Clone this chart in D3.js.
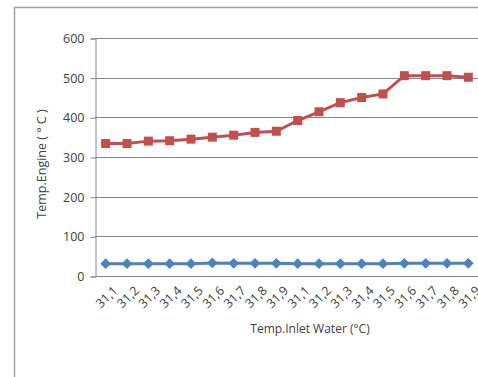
<!DOCTYPE html>
<html>
<head>
<meta charset="utf-8">
<script src="https://cdn.jsdelivr.net/npm/d3@7"></script>
<style>
  html, body { margin: 0; padding: 0; background: #fff; }
  svg { display: block; }
  text { font-family: "Open Sans", sans-serif; fill: #404040; }
</style>
</head>
<body>
<svg id="chart" width="478" height="377"></svg>
<script>
// Inlet water temperature categories (two sweeps of 31,1 … 31,9)
const categories = ["31,1","31,2","31,3","31,4","31,5","31,6","31,7","31,8","31,9",
                    "31,1","31,2","31,3","31,4","31,5","31,6","31,7","31,8","31,9"];
// Engine temperature (red, squares)
const engineTemp = [334, 334, 340, 341, 345, 350, 355, 362, 365,
                    392, 414, 437, 450, 459, 505, 505, 505, 501];
// Inlet water temperature (blue, diamonds)
const waterTemp = [31, 31, 31, 31, 31, 33, 32, 32, 32,
                   31, 31, 31, 31, 31, 32, 32, 32, 32];
const yTicks = [0, 100, 200, 300, 400, 500, 600];

const svg = d3.select("#chart");
const margin = { left: 95, top: 38, right: 479, bottom: 276 };
const FONT = "'Open Sans', sans-serif";

// chart frame (top and left edges)
svg.append("path")
  .attr("d", `M14.5,377 V7.5 H478`)
  .attr("fill", "none").attr("stroke", "#a0a0a0").attr("stroke-width", 1.5);

const x = d3.scaleBand().domain(d3.range(categories.length))
  .range([margin.left, margin.right]);
const y = d3.scaleLinear().domain([0, 600]).range([margin.bottom, margin.top]);

// horizontal gridlines
svg.append("g").selectAll("line").data(yTicks.filter(d => d > 0)).join("line")
  .attr("x1", margin.left).attr("x2", 478)
  .attr("y1", d => Math.round(y(d)) + 0.5).attr("y2", d => Math.round(y(d)) + 0.5)
  .attr("stroke", "#868686").attr("stroke-width", 1);

// y axis
const yAxis = svg.append("g").attr("transform", `translate(${margin.left + 0.5},0.5)`)
  .call(d3.axisLeft(y).tickValues(yTicks).tickSize(5).tickPadding(6));
yAxis.select(".domain").attr("stroke", "#868686");
yAxis.selectAll(".tick line").attr("stroke", "#868686");
yAxis.selectAll(".tick text").attr("font-size", 12.5).style("fill", "#404040")
  .style("font-family", FONT);

// x axis
svg.append("line")
  .attr("x1", margin.left).attr("x2", 478)
  .attr("y1", margin.bottom + 0.5).attr("y2", margin.bottom + 0.5)
  .attr("stroke", "#868686");

const cx = i => x(i) + x.bandwidth() / 2;

svg.append("g").selectAll("text").data(categories).join("text")
  .attr("transform", (d, i) => `translate(${cx(i) + 1},297) rotate(-45)`)
  .attr("text-anchor", "middle").attr("dy", "0.35em")
  .attr("font-size", 12.5)
  .text(d => d);

// series lines
const line = d3.line().x((d, i) => cx(i)).y(d => y(d));

svg.append("path").datum(waterTemp).attr("d", line)
  .attr("fill", "none").attr("stroke", "#4F81BD").attr("stroke-width", 3);
svg.append("path").datum(engineTemp).attr("d", line)
  .attr("fill", "none").attr("stroke", "#C0504D").attr("stroke-width", 3);

// markers
svg.append("g").selectAll("path").data(waterTemp).join("path")
  .attr("transform", (d, i) => `translate(${cx(i)},${y(d)}) rotate(45)`)
  .attr("d", "M-3.8,-3.8H3.8V3.8H-3.8Z")
  .attr("fill", "#4F81BD");
svg.append("g").selectAll("rect").data(engineTemp).join("rect")
  .attr("x", (d, i) => cx(i) - 4.5).attr("y", d => y(d) - 4.5)
  .attr("width", 9).attr("height", 9)
  .attr("fill", "#C0504D");

// axis titles
svg.append("text")
  .attr("transform", `translate(46,164) rotate(-90)`)
  .attr("text-anchor", "middle").attr("font-size", 12.5)
  .text("Temp.Engine ( ° C )");
svg.append("text")
  .attr("x", 310).attr("y", 333)
  .attr("text-anchor", "middle").attr("font-size", 12)
  .text("Temp.Inlet Water  (°C)");
</script>
</body>
</html>
